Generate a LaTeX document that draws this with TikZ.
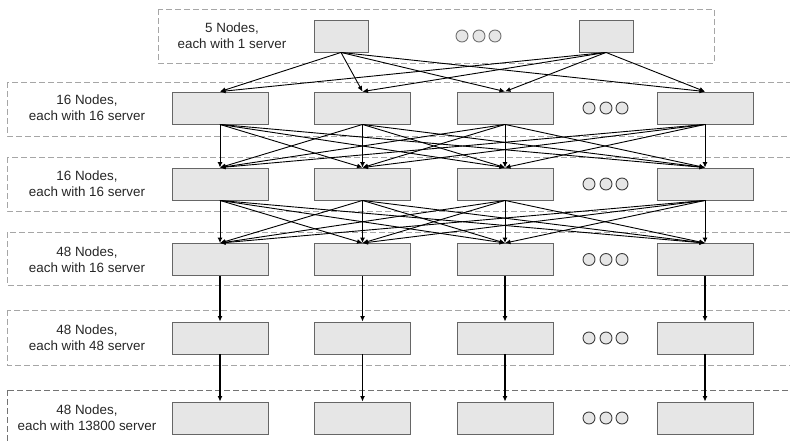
\documentclass[tikz,border=0pt]{standalone}
\usepackage{fontspec}
\setmainfont{Liberation Sans}
\usetikzlibrary{arrows.meta,positioning}
\tikzset{>={Latex[length=5.5pt,width=5pt]}}
\definecolor{boxgray}{HTML}{E6E6E6}
\tikzset{
  srv/.style={draw=black!60,fill=boxgray,line width=0.9pt,minimum width=96pt,minimum height=32pt,inner sep=0pt},
  topsrv/.style={srv,minimum width=54pt},
  layer/.style={draw=black!35,dash pattern=on 6pt off 3pt,line width=0.8pt},
  dot/.style={circle,draw=black!75,fill=boxgray,line width=0.9pt,minimum size=12pt,inner sep=0pt},
  lbl/.style={align=center,text=black!85,font=\fontsize{13.4}{16}\selectfont},
  link/.style={->,line width=0.9pt},
  boldlink/.style={->,line width=1.6pt}
}

\begin{document}
\begin{tikzpicture}[x=1pt,y=-1pt]
\useasboundingbox (0,0) rectangle (790,442);
\clip (0,0) rectangle (790,442);
% dashed layers
\draw[layer] (158,9) rectangle (714,63);
\draw[layer] (7,82) rectangle (800,136);
\draw[layer] (7,157) rectangle (800,211);
\draw[layer] (7,232) rectangle (800,285);
\draw[layer] (7,310) rectangle (800,365);
\draw[layer,draw=black!55] (7,390) rectangle (800,460);
% layer texts
\node[lbl] (txt0) at (232,36) {5 Nodes,\\each with 1 server};
\node[lbl] (txt1) at (87,108) {16 Nodes,\\each with 16 server};
\node[lbl] (txt2) at (87,184) {16 Nodes,\\each with 16 server};
\node[lbl] (txt3) at (87,259.5) {48 Nodes,\\each with 16 server};
\node[lbl] (txt4) at (87,338) {48 Nodes,\\each with 48 server};
\node[lbl] (txt5) at (87,418) {48 Nodes,\\each with 13800 server};
% top nodes
\node[topsrv] (t1) at (341,36) {};
\node[topsrv] (t2) at (606,36) {};
\foreach \x in {462,479,495}
  \node[dot,draw=black!55] (tdot\x) at (\x,36) {};
% rows of nodes
\foreach \r/\y in {a/108,b/184,c/259.5,d/338,e/418} {
  \foreach \i/\x in {1/220,2/362.5,3/505,4/705}
    \node[srv] (\r\i) at (\x,\y) {};
  \foreach \x in {589,606,622}
    \node[dot] (\r dot\x) at (\x,\y) {};
}
% links
\foreach \s in {t1,t2}
  \foreach \j in {1,...,4}
    \draw[link] (\s.south) -- (a\j.north);
\foreach \i in {1,...,4}
  \foreach \j in {1,...,4} {
    \draw[link] (a\i.south) -- (b\j.north);
    \draw[link] (b\i.south) -- (c\j.north);
  }
\foreach \i in {1,...,4} {
  \draw[boldlink] (c\i) -- (d\i);
  \draw[boldlink] (d\i) -- (e\i);
}
\end{tikzpicture}
\end{document}
